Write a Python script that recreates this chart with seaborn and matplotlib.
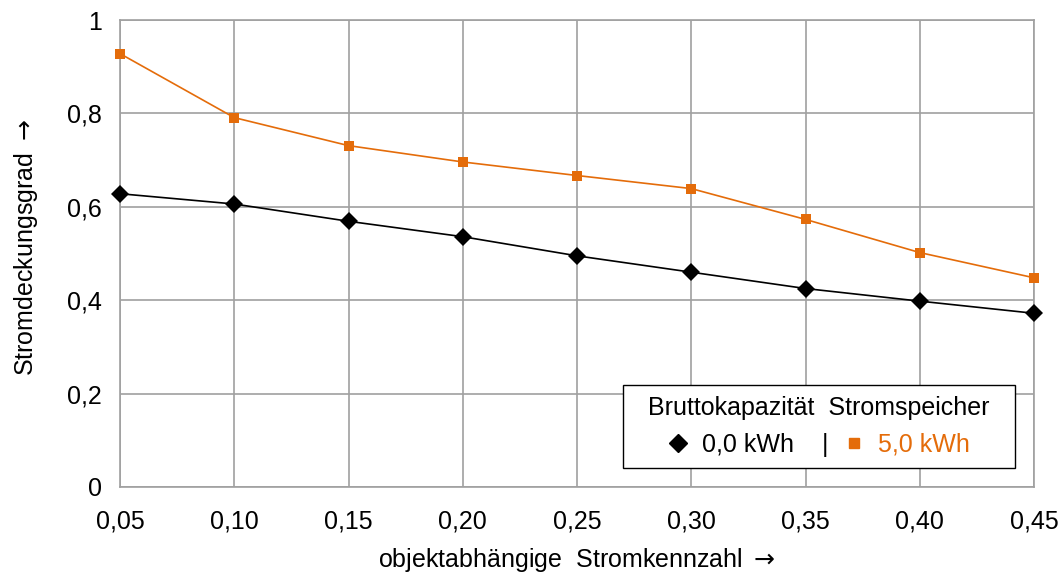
import numpy as np
import pandas as pd
import matplotlib.pyplot as plt
import seaborn as sns
from matplotlib.lines import Line2D

# values
stromkennzahl = [0.05, 0.10, 0.15, 0.20, 0.25, 0.30, 0.35, 0.40, 0.45]
deckung_0kwh = [0.628, 0.606, 0.569, 0.536, 0.495, 0.460, 0.425, 0.398, 0.372]
deckung_5kwh = [0.928, 0.791, 0.731, 0.696, 0.667, 0.639, 0.573, 0.502, 0.448]
series_labels = ["0,0 kWh", "5,0 kWh"]
x_ticks = [0.05, 0.10, 0.15, 0.20, 0.25, 0.30, 0.35, 0.40, 0.45]
y_ticks = [0, 0.2, 0.4, 0.6, 0.8, 1.0]

ORANGE = "#E46C0A"
GRID = "#A0A0A0"
FS = 18

df = pd.DataFrame({
    "x": stromkennzahl * 2,
    "y": deckung_0kwh + deckung_5kwh,
    "speicher": [series_labels[0]] * len(stromkennzahl) + [series_labels[1]] * len(stromkennzahl),
})

sns.set_theme(style="white")
plt.rcParams['font.family'] = ['Liberation Sans', 'DejaVu Sans']
plt.rcParams['text.color'] = 'black'

fig = plt.figure(figsize=(10.64, 5.72), dpi=100)
ax = fig.add_axes([120 / 1064, 1 - 487 / 572, 914 / 1064, 467 / 572])

sns.lineplot(data=df, x="x", y="y", hue="speicher", style="speicher",
             palette={series_labels[0]: "black", series_labels[1]: ORANGE},
             markers={series_labels[0]: "D", series_labels[1]: "s"},
             dashes=False, linewidth=1.2, legend=False, ax=ax, zorder=3)
for line, ms in zip(ax.lines, [9.5, 7.5]):
    line.set_markersize(ms)
    line.set_markeredgewidth(0)
    line.set_clip_on(False)

ax.set_xlim(0.05, 0.45)
ax.set_ylim(0, 1)
ax.set_xticks(x_ticks)
ax.set_xticklabels([f"{t:.2f}".replace(".", ",") for t in x_ticks])
ax.set_yticks(y_ticks)
ax.set_yticklabels(["0" if t == 0 else ("1" if t == 1 else f"{t:.1f}".replace(".", ",")) for t in y_ticks])
ax.tick_params(axis="x", labelsize=FS, colors="black", length=0, pad=16)
ax.tick_params(axis="y", labelsize=FS, colors="black", length=0, pad=13)
ax.grid(True, color=GRID, linewidth=1.2)
for sp in ax.spines.values():
    sp.set_color(GRID)
    sp.set_linewidth(1.2)

ax.set_xlabel(r"objektabhängige  Stromkennzahl $\rightarrow$", fontsize=FS, labelpad=9, color="black")
ax.set_ylabel(r"Stromdeckungsgrad $\rightarrow$", fontsize=FS, color="black")
ax.yaxis.set_label_coords(-0.088, 0.514)

handles = [
    Line2D([], [], marker="D", color="black", linestyle="none", markersize=9),
    Line2D([], [], marker="s", color=ORANGE, linestyle="none", markersize=7),
]
leg = ax.legend(handles, [series_labels[0] + "    |", series_labels[1]], ncol=2,
                title="  Bruttokapazität  Stromspeicher  ", title_fontsize=FS, fontsize=FS,
                loc="lower right", bbox_to_anchor=(0.979, 0.041), borderaxespad=0,
                frameon=True, fancybox=False, edgecolor="black", framealpha=1,
                handlelength=0.8, handletextpad=0.55, columnspacing=0.62, borderpad=0.45)
leg.get_frame().set_linewidth(1.0)
leg.get_title().set_color("black")
for t in leg.get_texts():
    t.set_color("black")
leg.get_texts()[1].set_color(ORANGE)

fig.savefig("out.png", dpi=100)
